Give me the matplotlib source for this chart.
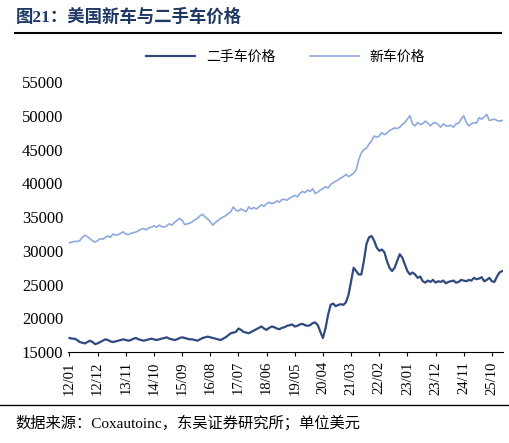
import matplotlib
matplotlib.use("Agg")
import matplotlib.pyplot as plt
import numpy as np

plt.rcParams['font.family'] = ['Noto Sans CJK SC', 'DejaVu Sans']

used = [17100,17000,17000,16800,16500,16400,16300,16500,16700,16500,16200,16300,
16500,16700,16900,16800,16600,16500,16600,16700,16800,16900,16800,16700,
16800,17000,17100,16900,16800,16700,16800,16900,17000,16900,16800,16900,
17000,17100,17200,17000,16900,16800,16900,17100,17200,17100,17000,16900,
16900,16800,16700,16900,17100,17200,17300,17200,17100,17000,16900,16800,
17000,17200,17500,17800,17900,18000,18500,18300,18000,17900,17800,18000,
18200,18400,18600,18800,18500,18300,18600,18800,18700,18500,18400,18600,
18700,18900,19000,19100,18800,18900,19100,19200,19000,18900,19000,19300,
19400,19000,18000,17100,18500,20500,22000,22200,21800,22000,22100,22000,
22400,23500,25500,27500,27000,26500,26500,28500,31000,32000,32200,31500,
30500,30000,30200,29800,28500,27500,27000,27500,28500,29500,29000,28000,
27000,26500,26800,26500,26000,26200,25500,25300,25600,25400,25700,25300,
25500,25400,25600,25200,25400,25500,25600,25300,25400,25700,25600,25500,
25700,25600,26000,25800,25900,26100,25500,25700,26000,25500,25400,26200,
26800,27000]
new = [31200,31300,31400,31400,31500,32000,32300,32100,31800,31500,31300,31500,
31800,31700,32000,32200,32000,32500,32300,32400,32600,32800,32500,32400,
32600,32700,32800,33000,33200,33300,33100,33400,33500,33700,33500,33800,
33600,33500,33700,34000,33800,34200,34500,34800,34500,33900,34000,34100,
34300,34600,34800,35200,35400,35000,34700,34300,33800,34200,34500,34800,
35000,35200,35500,35800,36500,36000,35900,36200,36000,35800,36500,36200,
36400,36200,36500,36800,36600,37000,37200,37000,37100,37400,37200,37600,
37600,37500,37800,38000,38200,38000,38500,38800,38600,39000,38800,39200,
38500,38700,39000,39200,39500,39300,39800,40100,40300,40500,40800,41000,
41300,41000,41200,41500,42000,43500,44500,45000,45200,45800,46300,47000,
46800,47000,47500,47200,47400,47800,48000,48200,48100,48300,48700,49000,
49500,50000,48800,48500,49000,48700,48800,49200,48900,48500,48900,49000,
48700,48300,48800,48500,48500,48600,48300,48800,48900,49500,50000,49000,
48500,48800,49000,48900,49700,49500,49800,50200,49300,49400,49500,49300,
49200,49300]
labels = [f"{12+(i)//12:02d}/{i%12+1:02d}" for i in range(len(used))]
tick_step = 11

serif = ['Liberation Serif', 'Noto Sans CJK SC']
fig = plt.figure(figsize=(5.09, 4.43), dpi=100)
fig.text(0.03, 0.962, "图21：美国新车与二手车价格", fontsize=12.5, fontweight='bold',
         color='#1F3864', va='center', family=['Liberation Serif', 'Noto Sans CJK SC'])
fig.add_artist(plt.Line2D([0.03, 0.985], [0.925, 0.925], color='black', lw=1.5))
fig.add_artist(plt.Line2D([0.0, 1.0], [0.085, 0.085], color='black', lw=1.0))
fig.text(0.03, 0.045, "数据来源：Coxautoinc，东吴证券研究所；单位美元", fontsize=11,
         va='center', family=serif)

ax = fig.add_axes([0.134, 0.205, 0.855, 0.61])
x = np.arange(len(used))
ax.plot(x, used, color='#2E4A7F', lw=1.6, label='二手车价格')
ax.plot(x, new, color='#8EA9DB', lw=1.2, label='新车价格')
ax.set_ylim(15000, 55000)
ax.set_yticks(range(15000, 55001, 5000))
ax.set_xlim(-0.5, len(used)-0.5)
ax.set_xticks(x[::tick_step])
ax.set_xticklabels(labels[::tick_step], rotation=90, fontsize=10.5, family=serif)
for t in ax.get_yticklabels():
    t.set_family(serif)
ax.tick_params(axis='y', labelsize=12, length=0)
ax.tick_params(axis='x', length=3)
for s in ['top', 'right', 'left']:
    ax.spines[s].set_visible(False)
ax.legend(loc='lower center', bbox_to_anchor=(0.5, 1.02), ncol=2, frameon=False,
          fontsize=10, handlelength=3.5, columnspacing=2.5)
fig.savefig("out.png", dpi=100)
